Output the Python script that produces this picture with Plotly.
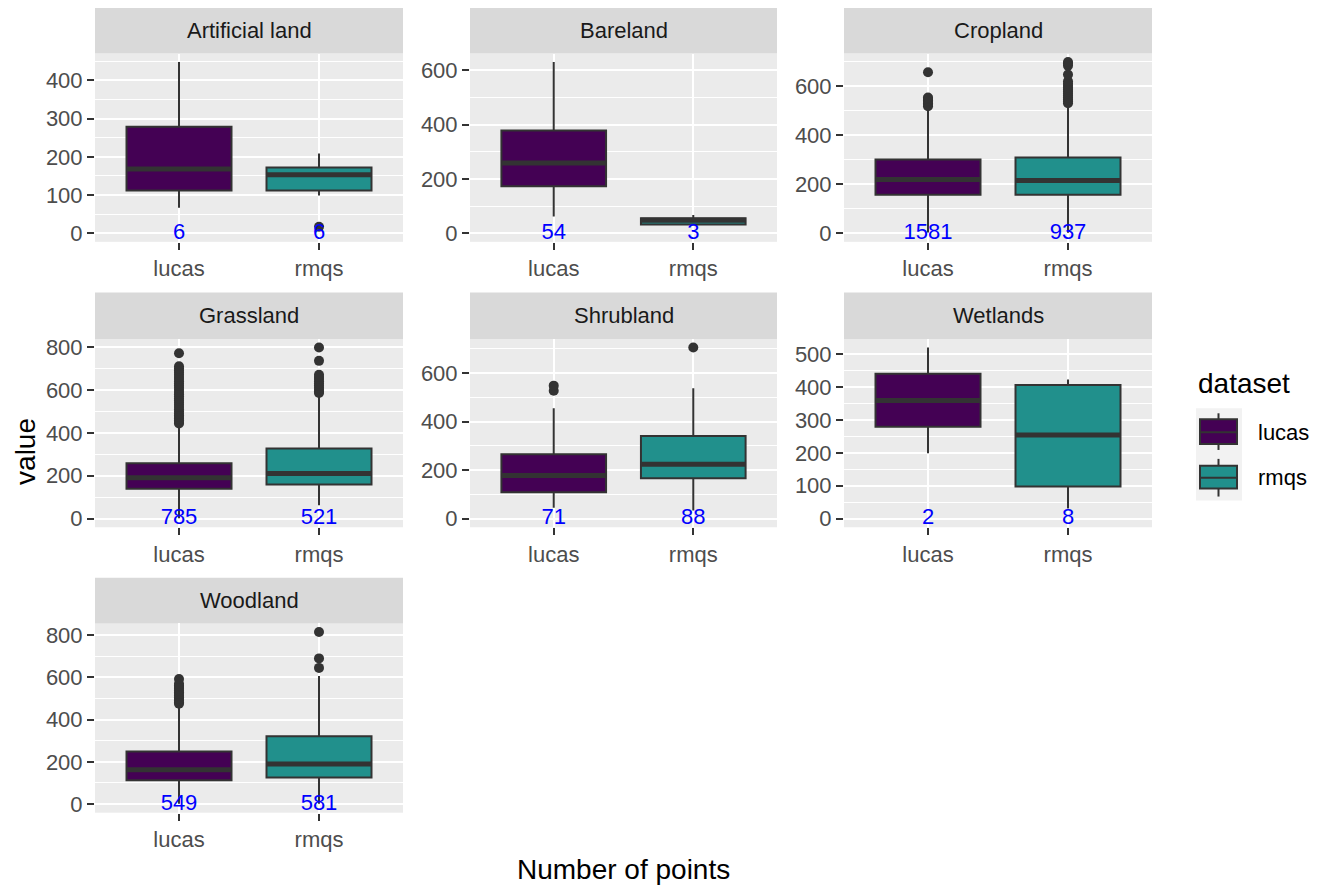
import plotly.graph_objects as go

# ---------------- data ----------------
categories = ["Artificial land", "Bareland", "Cropland", "Grassland",
              "Shrubland", "Wetlands", "Woodland"]
datasets = ["lucas", "rmqs"]

counts_lucas = [6, 54, 1581, 785, 71, 2, 549]
counts_rmqs = [6, 3, 937, 521, 88, 8, 581]

lucas_lo = [67, 62, 3, 2, 45, 199, 2]
lucas_q1 = [112, 173, 157, 140, 109, 279, 113]
lucas_med = [168, 259, 219, 191, 178, 359, 162]
lucas_q3 = [279, 378, 301, 258, 265, 440, 249]
lucas_hi = [448, 630, 512, 432, 455, 520, 468]

rmqs_lo = [99, 30, 2, 63, 34, 31, 2]
rmqs_q1 = [112, 32, 157, 159, 167, 98, 126]
rmqs_med = [153, 48, 215, 210, 224, 254, 190]
rmqs_q3 = [172, 55, 309, 327, 341, 406, 321]
rmqs_hi = [209, 67, 525, 575, 537, 423, 607]

lucas_out = [
    [],
    [],
    [518, 524, 530, 536, 542, 548, 554, 657],
    [443, 450, 458, 466, 474, 482, 490, 500, 510, 520, 530, 540, 550, 560, 570,
     580, 590, 600, 610, 620, 630, 640, 650, 660, 670, 680, 690, 700, 710, 770],
    [527, 548],
    [],
    [475, 482, 490, 498, 506, 514, 522, 530, 538, 546, 554, 562, 570, 592],
]
rmqs_out = [
    [17],
    [],
    [530, 538, 546, 554, 562, 570, 578, 586, 594, 602, 610, 620, 647, 683, 692, 698],
    [585, 592, 600, 610, 620, 630, 640, 650, 660, 670, 735, 797],
    [705],
    [],
    [645, 690, 815],
]

tick_step = [100, 200, 200, 200, 200, 100, 200]

# ---------------- styling ----------------
W, H = 1325, 892
FONT = "Liberation Sans, Arial, sans-serif"
fill_colors = ["#440154", "#21908C"]
col_px = [(95, 403), (470, 777), (844, 1152)]
row_px = [(50, 240), (338, 528), (625, 816)]
strip_px = [(4, 50), (291, 338), (579, 625)]

stats = {
    "lucas": (lucas_lo, lucas_q1, lucas_med, lucas_q3, lucas_hi, lucas_out, counts_lucas),
    "rmqs": (rmqs_lo, rmqs_q1, rmqs_med, rmqs_q3, rmqs_hi, rmqs_out, counts_rmqs),
}

fig = go.Figure()
shapes = []
annotations = []
layout_axes = {}

for i, cat in enumerate(categories):
    r, c = divmod(i, 3)
    sfx = "" if i == 0 else str(i + 1)
    xr, yr = "x" + sfx, "y" + sfx

    ymax = 0
    ymin = 0
    for j, ds in enumerate(datasets):
        lo, q1, med, q3, hi, out, cnt = stats[ds]
        ymax = max(ymax, hi[i], *(out[i] or [0]))
        ymin = min(ymin, lo[i], *(out[i] or [0]))
        fig.add_trace(go.Box(
            x=[j], q1=[q1[i]], median=[med[i]], q3=[q3[i]],
            lowerfence=[lo[i]], upperfence=[hi[i]],
            width=0.75, whiskerwidth=0, boxpoints=False,
            fillcolor=fill_colors[j], line=dict(color="#333333", width=2),
            xaxis=xr, yaxis=yr, showlegend=False, name=ds,
        ))
        fig.add_trace(go.Scatter(
            x=[j - 0.375, j + 0.375], y=[med[i], med[i]], mode="lines",
            line=dict(color="#333333", width=5), xaxis=xr, yaxis=yr,
            showlegend=False, hoverinfo="skip",
        ))
        if out[i]:
            fig.add_trace(go.Scatter(
                x=[j] * len(out[i]), y=out[i], mode="markers",
                marker=dict(color="#333333", size=10), xaxis=xr, yaxis=yr,
                showlegend=False,
            ))
        fig.add_trace(go.Scatter(
            x=[j], y=[0], mode="text", text=[str(cnt[i])],
            textposition="middle center",
            textfont=dict(color="blue", size=22, family=FONT),
            xaxis=xr, yaxis=yr, showlegend=False, hoverinfo="skip",
        ))

    span = ymax - ymin
    yrange = [ymin - 0.05 * span, ymax + 0.05 * span]
    dt = tick_step[i]

    x0, x1 = col_px[c]
    y0, y1 = row_px[r]
    layout_axes["xaxis" + sfx] = dict(
        domain=[x0 / W, x1 / W], anchor=yr, range=[-0.6, 1.6],
        tickmode="array", tickvals=[0, 1], ticktext=datasets,
        ticks="outside", ticklen=7, tickwidth=2, tickcolor="#333333",
        tickfont=dict(size=22, color="#4D4D4D", family=FONT),
        showgrid=True, gridcolor="white", gridwidth=2,
        zeroline=False, showline=False,
    )
    layout_axes["yaxis" + sfx] = dict(
        domain=[1 - y1 / H, 1 - y0 / H], anchor=xr, range=yrange,
        tick0=0, dtick=dt,
        ticks="outside", ticklen=7, tickwidth=2, tickcolor="#333333",
        tickfont=dict(size=22, color="#4D4D4D", family=FONT),
        showgrid=True, gridcolor="white", gridwidth=2,
        minor=dict(dtick=dt / 2, tick0=0, showgrid=True, gridcolor="white",
                   gridwidth=1, ticks=""),
        zeroline=False, showline=False,
    )

    s0, s1 = strip_px[r]
    shapes.append(dict(type="rect", xref="paper", yref="paper",
                       x0=x0 / W, x1=x1 / W, y0=1 - s1 / H, y1=1 - s0 / H,
                       fillcolor="#D9D9D9", line=dict(width=0), layer="below"))
    annotations.append(dict(text=cat, xref="paper", yref="paper",
                            x=(x0 + x1) / 2 / W, y=1 - (s0 + s1) / 2 / H,
                            xanchor="center", yanchor="middle", showarrow=False,
                            font=dict(size=22, color="#1A1A1A", family=FONT)))

# axis titles
annotations.append(dict(text="Number of points", xref="paper", yref="paper",
                        x=(95 + 1152) / 2 / W, y=1 - 873 / H, xanchor="center",
                        yanchor="middle", showarrow=False,
                        font=dict(size=28, color="black", family=FONT)))
annotations.append(dict(text="value", xref="paper", yref="paper",
                        x=26 / W, y=1 - 452 / H, xanchor="center",
                        yanchor="middle", showarrow=False, textangle=-90,
                        font=dict(size=28, color="black", family=FONT)))

# custom legend (ggplot style)
annotations.append(dict(text="dataset", xref="paper", yref="paper",
                        x=1196 / W, y=1 - 383 / H, xanchor="left",
                        yanchor="middle", showarrow=False,
                        font=dict(size=28, color="black", family=FONT)))
shapes.append(dict(type="rect", xref="paper", yref="paper",
                   x0=1196 / W, x1=1242 / W, y0=1 - 501 / H, y1=1 - 408 / H,
                   fillcolor="#F2F2F2", line=dict(width=0)))
key_rows = [(413, 419, 432, 444, 450), (459, 466, 478, 489, 497)]
for j, ds in enumerate(datasets):
    wt, bt, md, bb, wb = key_rows[j]
    xc = 1218.5
    shapes.append(dict(type="line", xref="paper", yref="paper",
                       x0=xc / W, x1=xc / W, y0=1 - wb / H, y1=1 - wt / H,
                       line=dict(color="#333333", width=2)))
    shapes.append(dict(type="rect", xref="paper", yref="paper",
                       x0=1200 / W, x1=1237 / W, y0=1 - bb / H, y1=1 - bt / H,
                       fillcolor=fill_colors[j], line=dict(color="#333333", width=2)))
    shapes.append(dict(type="line", xref="paper", yref="paper",
                       x0=1200 / W, x1=1237 / W, y0=1 - md / H, y1=1 - md / H,
                       line=dict(color="#333333", width=2)))
    annotations.append(dict(text=ds, xref="paper", yref="paper",
                            x=1256 / W, y=1 - md / H, xanchor="left",
                            yanchor="middle", showarrow=False,
                            font=dict(size=22, color="black", family=FONT)))

fig.update_layout(
    width=W, height=H,
    margin=dict(l=0, r=0, t=0, b=0),
    paper_bgcolor="white", plot_bgcolor="#EBEBEB",
    showlegend=False, shapes=shapes, annotations=annotations,
    font=dict(family=FONT),
    **layout_axes,
)

fig.write_html(
    "out.html",
    config={"displayModeBar": False},
    post_script="document.body.style.margin='0';document.body.style.overflow='hidden';",
)
